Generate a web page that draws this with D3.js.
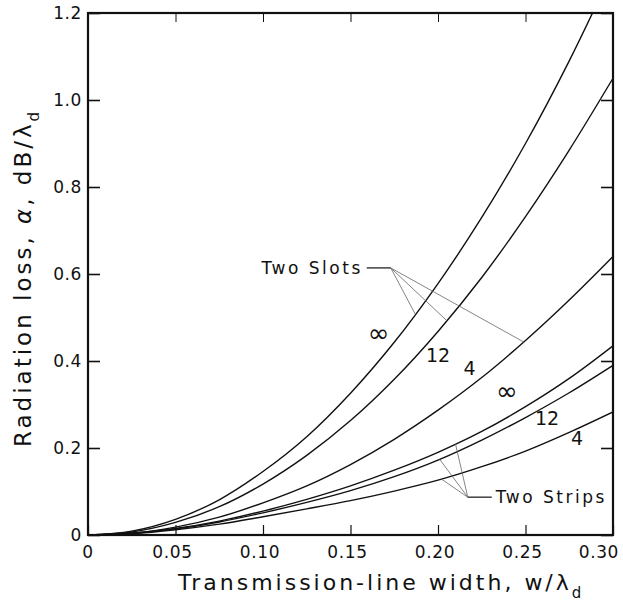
<!DOCTYPE html>
<html>
<head>
<meta charset="utf-8">
<script src="https://cdn.jsdelivr.net/npm/d3@7"></script>
<style>
  body { margin: 0; background: #fff; }
  text { font-family: "DejaVu Sans", sans-serif; fill: #111; }
</style>
</head>
<body>
<div id="chart"></div>
<script>
// w / lambda_d sample points
const xs = [0, 0.025, 0.05, 0.075, 0.10, 0.125, 0.15, 0.175, 0.20, 0.225, 0.25, 0.275, 0.30];

// radiation loss, dB / lambda_d
const slotInf = [0, 0.009, 0.036, 0.081, 0.146, 0.226, 0.326, 0.443, 0.578, 0.73, 0.90, 1.09, 1.30];
const slot12  = [0, 0.007, 0.029, 0.065, 0.117, 0.183, 0.263, 0.358, 0.468, 0.592, 0.732, 0.885, 1.05];
const slot4   = [0, 0.004, 0.018, 0.041, 0.074, 0.113, 0.162, 0.22, 0.287, 0.362, 0.447, 0.54, 0.64];
const stripInf = [0, 0.004, 0.015, 0.032, 0.055, 0.082, 0.113, 0.149, 0.19, 0.238, 0.295, 0.36, 0.435];
const strip12  = [0, 0.004, 0.014, 0.030, 0.051, 0.075, 0.102, 0.134, 0.172, 0.218, 0.27, 0.327, 0.39];
const strip4   = [0, 0.003, 0.012, 0.025, 0.042, 0.060, 0.079, 0.101, 0.126, 0.157, 0.193, 0.236, 0.283];

const xTicks = [0, 0.05, 0.10, 0.15, 0.20, 0.25, 0.30];
const xTickLabels = ["0", "0.05", "0.10", "0.15", "0.20", "0.25", "0.30"];
const yTicks = [0, 0.2, 0.4, 0.6, 0.8, 1.0, 1.2];
const yTickLabels = ["0", "0.2", "0.4", "0.6", "0.8", "1.0", "1.2"];

// curve labels (value placed at [x, y] in data units)
const curveLabels = [
  { text: "\u221E", x: 0.166, y: 0.46 },
  { text: "12", x: 0.200, y: 0.414 },
  { text: "4", x: 0.218, y: 0.384 },
  { text: "\u221E", x: 0.2394, y: 0.326 },
  { text: "12", x: 0.2623, y: 0.269 },
  { text: "4", x: 0.2794, y: 0.223 }
];

// group annotations: pointer spot and where each leader hits its curve
const slotGroup = { text: "Two Slots", px: 0.173, py: 0.614, curves: [slotInf, slot12, slot4], hits: [0.187, 0.205, 0.249] };
const stripGroup = { text: "Two Strips", px: 0.217, py: 0.087, curves: [stripInf, strip12, strip4], hits: [0.210, 0.201, 0.202] };

const width = 623, height = 609;
const margin = { top: 13, right: 10, bottom: 74, left: 88 };

const svg = d3.select("#chart").append("svg")
  .attr("width", width).attr("height", height);

const x = d3.scaleLinear().domain([0, 0.30]).range([margin.left, width - margin.right]);
const y = d3.scaleLinear().domain([0, 1.2]).range([height - margin.bottom, margin.top]);

svg.append("defs").append("clipPath").attr("id", "clip")
  .append("rect").attr("x", margin.left).attr("y", margin.top)
  .attr("width", x(0.30) - x(0)).attr("height", y(0) - y(1.2));

// frame
svg.append("rect")
  .attr("x", x(0)).attr("y", y(1.2))
  .attr("width", x(0.30) - x(0)).attr("height", y(0) - y(1.2))
  .attr("fill", "none").attr("stroke", "#111").attr("stroke-width", 2.2);

// ticks (all inward)
const axBottom = svg.append("g").attr("transform", `translate(0,${y(0)})`)
  .call(d3.axisBottom(x).tickValues(xTicks).tickSize(-10).tickFormat(""));
const axTop = svg.append("g").attr("transform", `translate(0,${y(1.2)})`)
  .call(d3.axisTop(x).tickValues(xTicks).tickSize(-9).tickFormat(""));
const axLeft = svg.append("g").attr("transform", `translate(${x(0)},0)`)
  .call(d3.axisLeft(y).tickValues(yTicks).tickSize(-12).tickFormat(""));
const axRight = svg.append("g").attr("transform", `translate(${x(0.30)},0)`)
  .call(d3.axisRight(y).tickValues(yTicks).tickSize(-12).tickFormat(""));
[axBottom, axTop, axLeft, axRight].forEach(g => {
  g.select(".domain").remove();
  g.selectAll(".tick line").attr("stroke", "#111").attr("stroke-width", 1.6);
});
axBottom.selectAll(".tick line").attr("stroke-width", 1.2);
axTop.selectAll(".tick line").attr("stroke-width", 1);

// tick labels
const lastX = xTicks.length - 1;
svg.append("g").selectAll("text").data(xTicks).join("text")
  .attr("x", (d, i) => i === lastX ? x(d) + 6 : x(d) - (i === 0 ? 0 : 3))
  .attr("y", y(0) + 23)
  .attr("text-anchor", (d, i) => i === lastX ? "end" : "middle")
  .attr("font-size", 17).attr("letter-spacing", 0.6)
  .text((d, i) => xTickLabels[i]);
svg.append("g").selectAll("text").data(yTicks).join("text")
  .attr("x", x(0) - 6).attr("y", d => y(d) + 6)
  .attr("text-anchor", "end").attr("font-size", 17)
  .attr("letter-spacing", 0.6)
  .text((d, i) => yTickLabels[i]);

// axis titles
const xt = svg.append("text")
  .attr("x", 178).attr("y", y(0) + 55)
  .attr("text-anchor", "start").attr("font-size", 22).attr("letter-spacing", 3.0);
xt.append("tspan").text("Transmission-line width, w/\u03BB");
xt.append("tspan").attr("font-size", 15).attr("dy", 8).text("d");

const yt = svg.append("text")
  .attr("transform", `translate(31,447) rotate(-90)`)
  .attr("text-anchor", "start").attr("font-size", 23).attr("letter-spacing", 3.0);
yt.append("tspan").text("Radiation loss, ");
yt.append("tspan").attr("font-style", "italic").text("\u03B1");
yt.append("tspan").text(", dB/\u03BB");
yt.append("tspan").attr("font-size", 15).attr("dy", 8).text("d");

// curves
const line = d3.line().x((d, i) => x(xs[i])).y(d => y(d)).curve(d3.curveCatmullRom.alpha(0.5));
const plot = svg.append("g").attr("clip-path", "url(#clip)");
[slotInf, slot12, slot4, stripInf, strip12, strip4].forEach(s => {
  plot.append("path").datum(s)
    .attr("fill", "none").attr("stroke", "#111").attr("stroke-width", 1.4)
    .attr("d", line);
});

svg.append("g").selectAll("text").data(curveLabels).join("text")
  .attr("x", d => x(d.x)).attr("y", d => y(d.y) + 7)
  .attr("text-anchor", "middle")
  .attr("font-size", d => d.text === "\u221E" ? 26 : 19)
  .text(d => d.text);

// annotations with leader lines
function valueAt(series, xv) {
  const i = Math.min(xs.length - 2, Math.floor(xv / 0.025));
  const t = (xv - xs[i]) / (xs[i + 1] - xs[i]);
  return series[i] + t * (series[i + 1] - series[i]);
}

function annotate(g, textRight) {
  const px = x(g.px), py = y(g.py);
  g.hits.forEach((h, k) => {
    svg.append("line")
      .attr("x1", px).attr("y1", py)
      .attr("x2", x(h)).attr("y2", y(valueAt(g.curves[k], h)))
      .attr("stroke", "#666").attr("stroke-width", 0.8);
  });
  const dir = textRight ? 1 : -1;
  svg.append("line")
    .attr("x1", px).attr("y1", py).attr("x2", px + dir * 24).attr("y2", py)
    .attr("stroke", "#111").attr("stroke-width", 1.2);
  svg.append("text")
    .attr("x", px + dir * 28).attr("y", py + 6)
    .attr("text-anchor", textRight ? "start" : "end")
    .attr("font-size", 17).attr("letter-spacing", 2.5)
    .text(g.text);
}
annotate(slotGroup, false);
annotate(stripGroup, true);
</script>
</body>
</html>
